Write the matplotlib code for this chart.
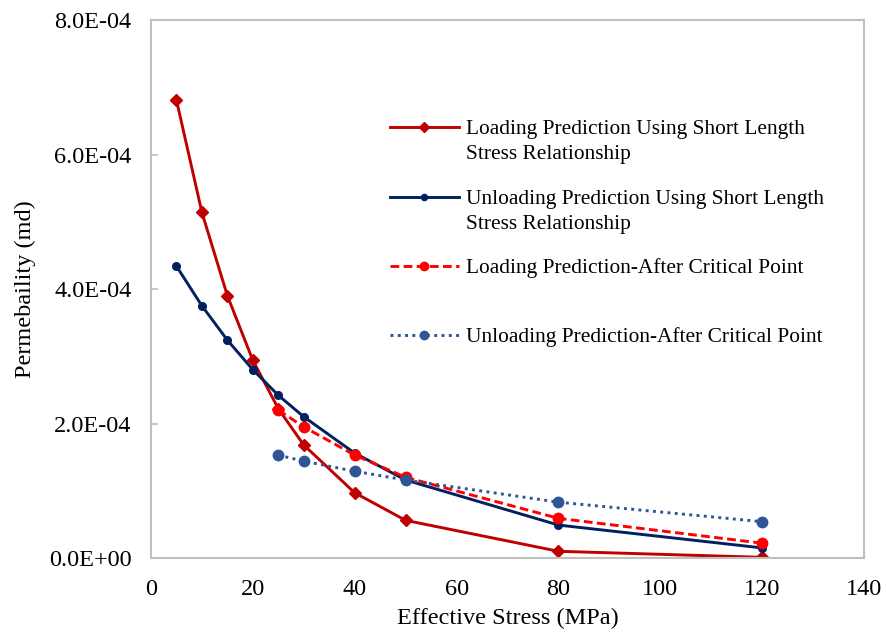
import matplotlib.pyplot as plt
from matplotlib.lines import Line2D

plt.rcParams['font.family'] = ['Liberation Serif', 'DejaVu Serif']

stress = [5, 10, 15, 20, 25, 30, 40, 50, 80, 120]
loading = [6.81e-4, 5.14e-4, 3.90e-4, 2.94e-4, 2.22e-4, 1.68e-4, 0.97e-4, 0.56e-4, 0.10e-4, 0.01e-4]
unloading = [4.34e-4, 3.75e-4, 3.24e-4, 2.80e-4, 2.42e-4, 2.10e-4, 1.56e-4, 1.16e-4, 0.49e-4, 0.15e-4]

stress_crit = [25, 30, 40, 50, 80, 120]
loading_crit = [2.20e-4, 1.95e-4, 1.53e-4, 1.20e-4, 0.59e-4, 0.22e-4]
unloading_crit = [1.53e-4, 1.44e-4, 1.29e-4, 1.16e-4, 0.83e-4, 0.54e-4]

labels = ['Loading Prediction Using Short Length\nStress Relationship',
          'Unloading Prediction Using Short Length\nStress Relationship',
          'Loading Prediction-After Critical Point',
          'Unloading Prediction-After Critical Point']

fig = plt.figure(figsize=(8.86, 6.37), dpi=100)
ax = fig.add_axes([0.1704, 0.124, 0.8048, 0.8446])

styles = [
    dict(color='#C00000', ls='-', marker='D', ms=6, lw=2.1),
    dict(color='#002060', ls='-', marker='o', ms=5.5, lw=2.1),
    dict(color='#FF0000', ls=(0, (3, 1.5)), marker='o', ms=7.5, lw=2.1),
    dict(color='#2F5597', ls=(0, (1, 1.5)), marker='o', ms=7.5, lw=2.1),
]

ax.plot(stress, loading, **styles[0])
ax.plot(stress, unloading, **styles[1])
ax.plot(stress_crit, loading_crit, **styles[2])
ax.plot(stress_crit, unloading_crit, **styles[3])

ax.set_xlim(0, 140)
ax.set_ylim(0, 8e-4)
ax.set_xticks(range(0, 141, 20))
ax.set_yticks([0, 2e-4, 4e-4, 6e-4, 8e-4])
ax.set_yticklabels(['0.0E+00', '2.0E-04', '4.0E-04', '6.0E-04', '8.0E-04'])
ax.tick_params(axis='x', length=0, pad=15, labelsize=17.5)
ax.tick_params(axis='y', direction='in', length=5, width=1.2, color='#BFBFBF',
               pad=14, labelsize=17.5)
for s in ax.spines.values():
    s.set_color('#BFBFBF')
    s.set_linewidth(1.5)

ax.set_xlabel('Effective Stress (MPa)', fontsize=17.5, labelpad=6)
ax.set_ylabel('Permebaility (md)', fontsize=17.5, labelpad=9)

# legend drawn by hand: entries are unevenly spaced
entry_y = [0.801, 0.671, 0.543, 0.4145]
for st, lab, yy in zip(styles, labels, entry_y):
    ax.add_line(Line2D([0.335, 0.432], [yy, yy], transform=ax.transAxes,
                       color=st['color'], ls=st['ls'], lw=st['lw']))
    ax.add_line(Line2D([0.383], [yy], transform=ax.transAxes, color=st['color'],
                       marker=st['marker'], ms=st['ms'] * 0.8, ls='none'))
    for k, line in enumerate(lab.split('\n')):
        ax.text(0.4418, yy - 0.004 - 0.047 * k, line, transform=ax.transAxes,
                fontsize=15.4, va='center')

fig.savefig('out.png', dpi=100)
